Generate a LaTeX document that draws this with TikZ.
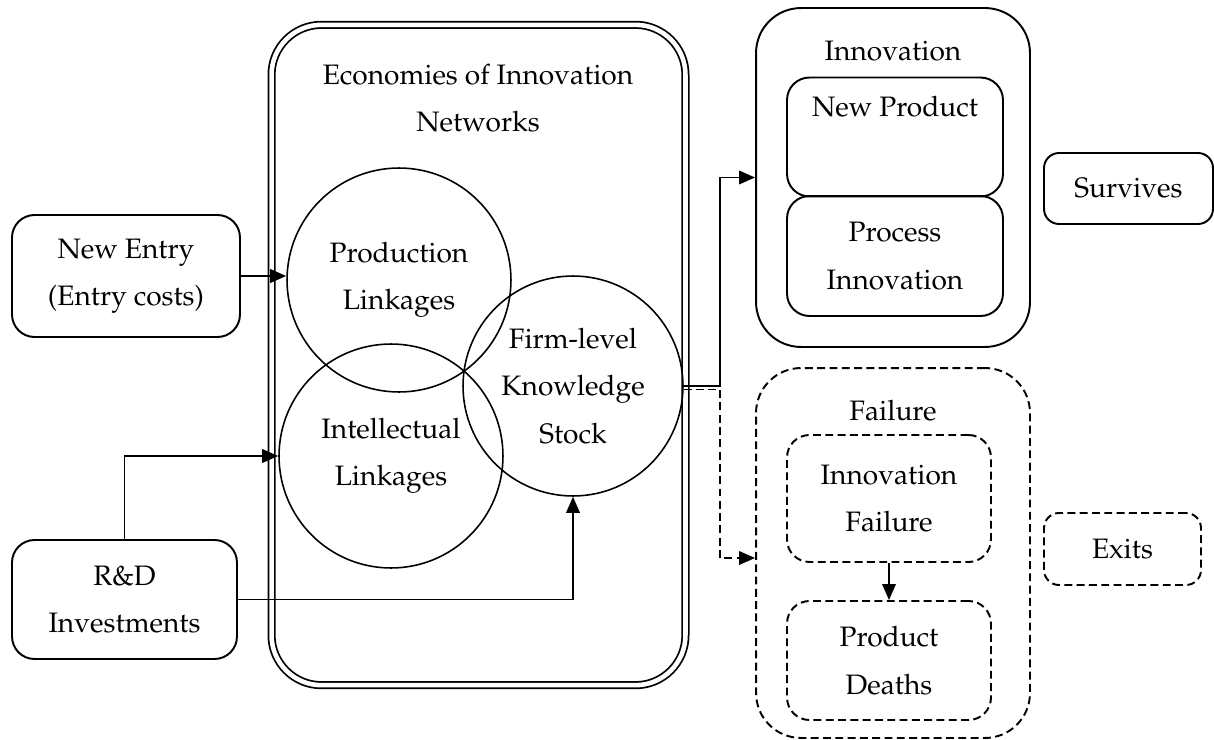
\documentclass[tikz,border=0pt]{standalone}
\usepackage[T1]{fontenc}
\usepackage{mathpazo}
\usepackage{tikz}
\usetikzlibrary{arrows.meta,shapes,calc}
\usetikzlibrary{positioning}
\tikzset{
    %Define standard arrow tip
    >={Triangle[length=0.32cm,width=0.27cm]},
    % Define text and box styles
    txt/.style={
           font=\fontsize{16}{27}\selectfont,
           align=center,
           inner sep=0pt,
           },
    box/.style={
           txt,
           draw,
           line width=1.1pt,
           rounded corners=0.45cm,
           },
    dbox/.style={
           box,
           dash pattern=on 4.5pt off 2.5pt,
           },
    ring/.style={
           txt,
           draw,
           circle,
           line width=0.9pt,
           },
    % Define arrow style
    arr/.style={
           ->,
           line width=1.1pt,
           },
    darr/.style={
           arr,
           dash pattern=on 4.5pt off 2.5pt,
           }
}

\begin{document}
\begin{tikzpicture}[x=0.02cm,y=-0.02cm]
  	\useasboundingbox (0,0) rectangle (1214,740);
  	\coordinate (split) at (720,0);
  	% network box
  	\node (net) at (478.5,355) [draw,double,double distance=2.6pt,line width=1pt,rounded corners=1cm,minimum width=8.28cm,minimum height=13.21cm] {};
  	\node (nettitle) at (478,98) [txt] {Economies of Innovation\\Networks};
  	\node (prod) at (399,280) [ring,minimum size=4.48cm] {Production\\Linkages};
  	\node (intel) at (391,456) [ring,minimum size=4.48cm] {Intellectual\\Linkages};
  	\node (firm) at (573,386) [ring,minimum size=4.4cm] {Firm-level\\Knowledge\\Stock};
  	% inputs
  	\node (entry) at (126,276) [box,minimum width=4.56cm,minimum height=2.44cm] {New Entry\\(Entry costs)};
  	\node (rd) at (124.5,599.5) [box,minimum width=4.5cm,minimum height=2.38cm] {R\&D\\Investments};
  	% outcomes
  	\node (innov) at (893,177.5) [box,rounded corners=0.9cm,minimum width=5.48cm,minimum height=6.78cm] {};
  	\node (innovtitle) at (893,51) [txt] {Innovation};
  	\node (newprod) at (895,137) [box,minimum width=4.32cm,minimum height=2.38cm] {New Product\\\strut};
  	\node (proc) at (895,256) [box,minimum width=4.32cm,minimum height=2.4cm] {Process\\Innovation};
  	\node (surv) at (1128.5,188.5) [box,rounded corners=0.3cm,minimum width=3.38cm,minimum height=1.42cm] {Survives};
  	\node (fail) at (893,553) [dbox,rounded corners=0.9cm,minimum width=5.48cm,minimum height=7.4cm] {};
  	\node (failtitle) at (893,411) [txt] {Failure};
  	\node (ifail) at (889,498.5) [dbox,minimum width=4.08cm,minimum height=2.54cm] {Innovation\\Failure};
  	\node (pdeath) at (889,660.5) [dbox,minimum width=4.08cm,minimum height=2.38cm] {Product\\Deaths};
  	\node (exits) at (1122.5,549) [dbox,rounded corners=0.3cm,minimum width=3.14cm,minimum height=1.44cm] {Exits};
  	% connectors
  	\draw [arr] (entry.east) -- (entry.east -| prod.west);
  	\draw [arr] (rd.north) |- (intel.west);
  	\draw [arr] (rd.east) -| (firm.south);
  	\draw [arr] (firm.east) -- (firm.east -| split) |- (innov.west);
  	\draw [darr] ([yshift=-2pt]firm.east) -- ([yshift=-2pt]firm.east -| split) |- ([yshift=-0.1cm]fail.west);
  	\draw [arr] (ifail) -- (pdeath);
\end{tikzpicture}
\end{document}
